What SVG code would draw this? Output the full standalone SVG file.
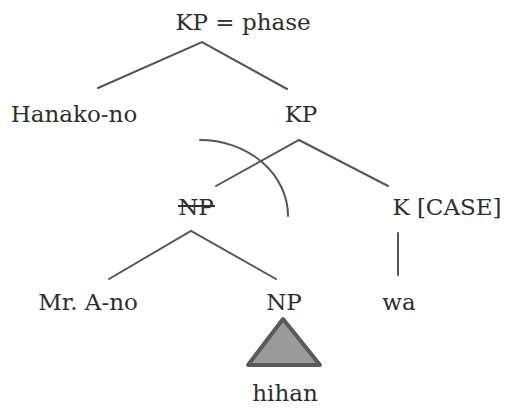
<svg xmlns="http://www.w3.org/2000/svg" width="505" height="408" viewBox="0 0 505 408">
<style>
.t{font-family:'DejaVu Serif',serif;font-size:23px;fill:#2e2e2e;text-anchor:middle}
.e{stroke:#555;stroke-width:2;fill:none;stroke-linecap:round}
</style>
<rect width="505" height="408" fill="#fff"/>
<g id="connectors">
<path class="e" d="M98,88 L202,42 L287,89"/>
<path class="e" d="M216,186 L299,140 L388,186"/>
<path class="e" d="M109,279 L191,231 L276,279"/>
<path class="e" d="M398,233 L398,275"/>
<path class="e" d="M200,140 A88,76 0 0 1 288,216"/>
</g>
<g id="kp-phase"><text class="t" x="243" y="30">KP = phase</text></g>
<g id="hanako"><text class="t" x="74" y="122">Hanako-no</text></g>
<g id="kp"><text class="t" x="301" y="122">KP</text></g>
<g id="np-struck"><text class="t" x="196" y="215">NP</text><line x1="178" y1="206" x2="215" y2="206" stroke="#2e2e2e" stroke-width="2"/></g>
<g id="k-case"><text class="t" x="447" y="215">K [CASE]</text></g>
<g id="mr-a"><text class="t" x="88" y="310">Mr. A-no</text></g>
<g id="np"><text class="t" x="284" y="310">NP</text></g>
<g id="wa"><text class="t" x="399" y="310">wa</text></g>
<g id="hihan"><text class="t" x="285" y="401">hihan</text></g>
<g id="triangle"><polygon points="283,319 248,365 320,365" fill="#9a9a9a" stroke="#5a5a5a" stroke-width="4" stroke-linejoin="round"/></g>
</svg>
